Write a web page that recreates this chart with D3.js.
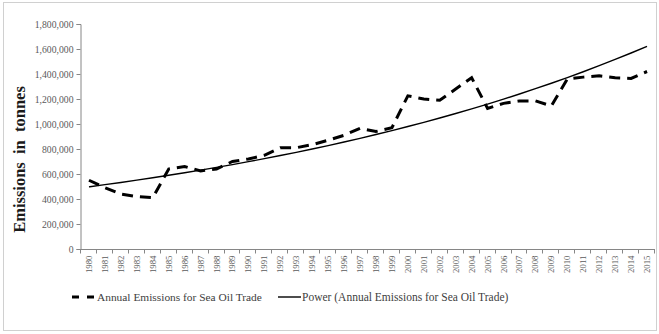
<!DOCTYPE html>
<html>
<head>
<meta charset="utf-8">
<script src="https://cdn.jsdelivr.net/npm/d3@7"></script>
<style>
  html, body { margin: 0; padding: 0; background: #fff; }
  svg { display: block; font-family: "Liberation Serif", "Times New Roman", serif; }
</style>
</head>
<body>
<svg id="chart" width="659" height="334"></svg>
<script>
// Annual emissions (tonnes) from seaborne oil trade, 1980–2015
const years = d3.range(1980, 2016).map(String);
const emissions = [
  550000, 490000, 440000, 420000, 410000, 640000, 660000, 625000, 640000, 700000,
  720000, 750000, 810000, 810000, 835000, 870000, 910000, 965000, 940000, 970000,
  1225000, 1200000, 1190000, 1280000, 1370000, 1125000, 1165000, 1185000, 1185000, 1145000,
  1360000, 1375000, 1385000, 1370000, 1365000, 1420000
];
const yTicks = [0, 200000, 400000, 600000, 800000, 1000000, 1200000, 1400000, 1600000, 1800000];
const seriesName = "Annual Emissions for Sea Oil Trade";
const trendName = "Power (Annual Emissions for Sea Oil Trade)";
const yTitle = "Emissions  in  tonnes";

const svg = d3.select("#chart");
const W = 659, H = 334;
const plot = { left: 81, right: 655, top: 24, bottom: 249 };

// chart frame
svg.append("rect")
  .attr("x", 3.5).attr("y", 2.5).attr("width", W - 6).attr("height", H - 6)
  .attr("fill", "#fff").attr("stroke", "#d0d0d0").attr("stroke-width", 1);

const x = d3.scaleBand().domain(years).range([plot.left, plot.right]);
const y = d3.scaleLinear().domain([0, 1800000]).range([plot.bottom, plot.top]);
const fmt = d3.format(",");
const axisColor = "#868686";
const labelColor = "#595959";

// y axis
const yAxis = svg.append("g")
  .attr("transform", `translate(${plot.left - 0.5},0)`)
  .call(d3.axisLeft(y).tickValues(yTicks).tickFormat(fmt).tickSize(4).tickPadding(3));
yAxis.select(".domain").attr("stroke", axisColor);
yAxis.selectAll(".tick line").attr("stroke", axisColor);
yAxis.selectAll(".tick text")
  .attr("fill", labelColor)
  .style("font-family", "Liberation Serif, serif")
  .style("font-size", "9.7px");

// x axis: tick marks on category boundaries
const xAxisG = svg.append("g").attr("transform", `translate(0,${plot.bottom + 0.5})`);
xAxisG.append("line")
  .attr("x1", plot.left - 0.5).attr("x2", plot.right)
  .attr("stroke", axisColor);
const bounds = years.map(d => x(d)).concat([x(years[years.length - 1]) + x.bandwidth()]);
xAxisG.selectAll(".xtick").data(bounds).join("line")
  .attr("class", "xtick")
  .attr("x1", d => Math.round(d) - 0.5).attr("x2", d => Math.round(d) - 0.5)
  .attr("y1", 0).attr("y2", 4)
  .attr("stroke", axisColor);
xAxisG.selectAll(".xlabel").data(years).join("text")
  .attr("class", "xlabel")
  .attr("transform", d => `translate(${x(d) + x.bandwidth() / 2 + 3},6) rotate(-90)`)
  .attr("text-anchor", "end")
  .attr("fill", labelColor)
  .style("font-size", "8.8px")
  .text(d => d);

// y axis title
svg.append("text")
  .attr("transform", `translate(25,${(plot.top + plot.bottom) / 2 + 23}) rotate(-90)`)
  .attr("text-anchor", "middle")
  .attr("font-weight", "bold")
  .attr("fill", "#1a1a1a")
  .style("font-size", "16.5px")
  .style("white-space", "pre")
  .attr("xml:space", "preserve")
  .text(yTitle);

const cx = d => x(d) + x.bandwidth() / 2;

// power trend line fitted to the series: ln(y) = ln(a) + b * ln(year)
const lx = years.map(d => Math.log(+d));
const ly = emissions.map(v => Math.log(v));
const mx = d3.mean(lx), my = d3.mean(ly);
const b = d3.sum(lx, (v, i) => (v - mx) * (ly[i] - my)) / d3.sum(lx, v => (v - mx) * (v - mx));
const lnA = my - b * mx;
const trend = years.map(d => Math.exp(lnA + b * Math.log(+d)));

// data series: thick dashed line
svg.append("path")
  .datum(emissions)
  .attr("fill", "none")
  .attr("stroke", "#000")
  .attr("stroke-width", 3)
  .attr("stroke-dasharray", "11,7")
  .attr("d", d3.line().x((v, i) => cx(years[i])).y(v => y(v)));

// trend line
svg.append("path")
  .datum(trend)
  .attr("fill", "none")
  .attr("stroke", "#000")
  .attr("stroke-width", 1.4)
  .attr("d", d3.line().x((v, i) => cx(years[i])).y(v => y(v)).curve(d3.curveMonotoneX));

// legend
const legendY = 297;
const lg = svg.append("g");
lg.append("line")
  .attr("x1", 72).attr("x2", 96).attr("y1", legendY).attr("y2", legendY)
  .attr("stroke", "#000").attr("stroke-width", 3).attr("stroke-dasharray", "7,8");
lg.append("text")
  .attr("x", 97).attr("y", legendY + 4)
  .attr("fill", "#404040").style("font-size", "11.4px")
  .text(seriesName);
lg.append("line")
  .attr("x1", 278).attr("x2", 301).attr("y1", legendY).attr("y2", legendY)
  .attr("stroke", "#000").attr("stroke-width", 1.4);
lg.append("text")
  .attr("x", 302).attr("y", legendY + 4)
  .attr("fill", "#404040").style("font-size", "11.5px")
  .text(trendName);
</script>
</body>
</html>
